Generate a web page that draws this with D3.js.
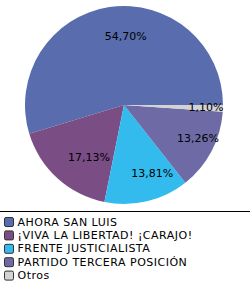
<!DOCTYPE html>
<html>
<head>
<meta charset="utf-8">
<script src="https://cdn.jsdelivr.net/npm/d3@7"></script>
<style>
  body { margin: 0; background: #fff; }
  text { font-family: "DejaVu Sans", Verdana, sans-serif; font-size: 11px; fill: #000; }
  .legend text { letter-spacing: 0.5px; }
</style>
</head>
<body>
<div id="chart"></div>
<script>
// data van de grafiek
const partidos = ["AHORA SAN LUIS", "¡VIVA LA LIBERTAD! ¡CARAJO!", "FRENTE JUSTICIALISTA", "PARTIDO TERCERA POSICIÓN", "Otros"];
const porcentajes = [54.70, 17.13, 13.81, 13.26, 1.10];
const kleuren = ["#586cae", "#7a4d84", "#33bbee", "#6e6aa6", "#d3d3d3"];

const width = 250,
    height = 285,
    radius = 99,
    cx = 124,
    cy = 105;

const data = partidos.map((p, i) => ({ naam: p, waarde: porcentajes[i] }));

const color = d3.scaleOrdinal()
    .domain(partidos)
    .range(kleuren);

// tegen de klok in vanaf 3 uur
const pie = d3.pie()
    .sort(null)
    .startAngle(Math.PI / 2)
    .endAngle(Math.PI / 2 - 2 * Math.PI)
    .value(d => d.waarde);

const arc = d3.arc()
    .innerRadius(0)
    .outerRadius(radius);

const labelArc = d3.arc()
    .innerRadius(70)
    .outerRadius(70);

const svg = d3.select("#chart")
    .append("svg")
    .attr("width", width)
    .attr("height", height);

const g = svg.append("g")
    .attr("transform", "translate(" + cx + "," + cy + ")");

const slices = g.selectAll(".arc")
    .data(pie(data))
    .enter()
    .append("g")
    .attr("class", "arc");

slices.append("path")
    .attr("d", arc)
    .attr("fill", d => color(d.data.naam));

slices.append("text")
    .attr("transform", d => "translate(" + labelArc.centroid(d) + ")")
    .attr("dx", 12)
    .attr("dy", ".35em")
    .attr("text-anchor", "middle")
    .text(d => d.data.waarde.toFixed(2).replace(".", ",") + "%");

// scheidingslijn boven de legenda
svg.append("line")
    .attr("x1", 0)
    .attr("x2", width)
    .attr("y1", 211.5)
    .attr("y2", 211.5)
    .attr("stroke", "#000")
    .attr("stroke-width", 1);

// legenda
const y = d3.scaleBand()
    .domain(partidos)
    .range([215, 282]);

const legend = svg.selectAll(".legend")
    .data(partidos)
    .enter()
    .append("g")
    .attr("class", "legend")
    .attr("transform", d => "translate(0," + y(d) + ")");

legend.append("rect")
    .attr("x", 4.5)
    .attr("y", 2.5)
    .attr("width", 9)
    .attr("height", 9)
    .attr("rx", 1.5)
    .attr("fill", d => color(d))
    .attr("stroke", "#333");

legend.append("text")
    .attr("x", 17.5)
    .attr("y", y.bandwidth() / 2)
    .attr("dy", ".35em")
    .text(d => d);
</script>
</body>
</html>
